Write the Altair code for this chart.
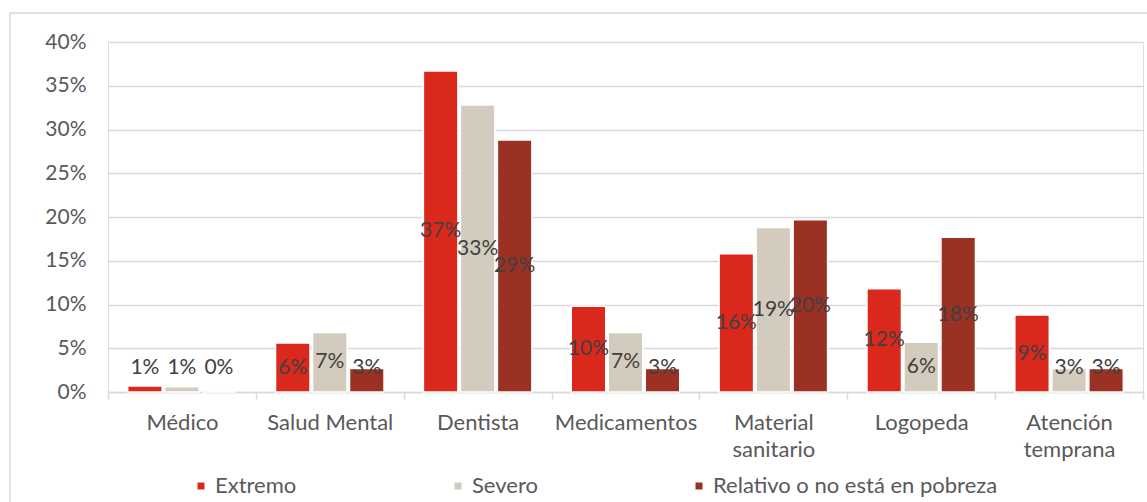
import altair as alt
import pandas as pd

# Share of children lacking each health service, by poverty level (percent)
categories = ["Médico", "Salud Mental", "Dentista", "Medicamentos",
              "Material sanitario", "Logopeda", "Atención temprana"]
series = ["Extremo", "Severo", "Relativo o no está en pobreza"]
extremo = [0.7, 5.6, 36.7, 9.8, 15.8, 11.8, 8.8]
severo = [0.6, 6.8, 32.8, 6.8, 18.8, 5.7, 2.7]
relativo = [0.0, 2.7, 28.8, 2.7, 19.7, 17.7, 2.7]
colors = ["#DA291C", "#D3CCBE", "#9B3123"]

rows = []
for name, vals in zip(series, [extremo, severo, relativo]):
    for cat, v in zip(categories, vals):
        rows.append({"categoria": cat, "nivel": name, "valor": v})
df = pd.DataFrame(rows)

FONT = "Lato"
W, H = 1035, 350

x_enc = alt.X(
    "categoria:N", sort=categories, title=None,
    scale=alt.Scale(paddingInner=0, paddingOuter=0),
    axis=alt.Axis(
        labelAngle=0, labelFont=FONT, labelFontSize=22, labelColor="#595959",
        labelPadding=13, labelLineHeight=27,
        labelExpr="length(datum.label) > 14 ? split(datum.label, ' ') : datum.label",
        domainColor="#D9D9D9", domainWidth=1.5, tickColor="#D9D9D9",
        tickWidth=1.5, tickSize=7, tickBand="extent", grid=False,
    ),
)
xoff_enc = alt.XOffset(
    "nivel:N", sort=series,
    scale=alt.Scale(paddingInner=0.068, paddingOuter=0.532),
)
y_enc = alt.Y(
    "valor:Q", title=None,
    scale=alt.Scale(domain=[0, 40], nice=False),
    axis=alt.Axis(
        values=[0, 5, 10, 15, 20, 25, 30, 35, 40],
        labelExpr="datum.value + '%'",
        labelFont=FONT, labelFontSize=21, labelColor="#595959",
        labelPadding=22, domain=False, ticks=False,
        gridColor="#D9D9D9", gridWidth=1.5,
    ),
)

# light frame around the whole figure
frame = alt.Chart(alt.Data(values=[{}])).mark_rect(
    fill=None, stroke="#D9D9D9", strokeWidth=1.5, clip=False
).encode(
    x=alt.value(-98), x2=alt.value(W + 10),
    y=alt.value(-29), y2=alt.value(H + 120),
)

bars = alt.Chart(df).mark_bar(stroke="white", strokeWidth=1.5).encode(
    x=x_enc,
    xOffset=xoff_enc,
    y=y_enc,
    color=alt.Color(
        "nivel:N", sort=series, title=None,
        scale=alt.Scale(domain=series, range=colors),
        legend=alt.Legend(
            orient="none", direction="horizontal", legendX=82, legendY=433,
            padding=0, symbolType="square", symbolSize=49, symbolStrokeWidth=0,
            labelFont=FONT, labelFontSize=22, labelColor="#595959",
            labelOffset=3, columnPadding=150, labelLimit=400,
        ),
    ),
)

labels = alt.Chart(df).transform_calculate(
    etiqueta="format(round(datum.valor), 'd') + '%'",
    pos="max(datum.valor / 2, 2.8)",
).mark_text(
    font=FONT, fontSize=21, color="#404040", baseline="middle", align="center"
).encode(
    x=alt.X("categoria:N", sort=categories),
    xOffset=alt.XOffset("nivel:N", sort=series),
    y=alt.Y("pos:Q"),
    text="etiqueta:N",
)

chart = alt.layer(frame, bars, labels).properties(
    width=W, height=H,
    autosize=alt.AutoSizeParams(type="none"),
    padding={"left": 108, "top": 42, "right": 4, "bottom": 110},
).configure_view(stroke=None).configure(background="white")

chart.save("out.html", embed_options={"renderer": "svg", "actions": False})
